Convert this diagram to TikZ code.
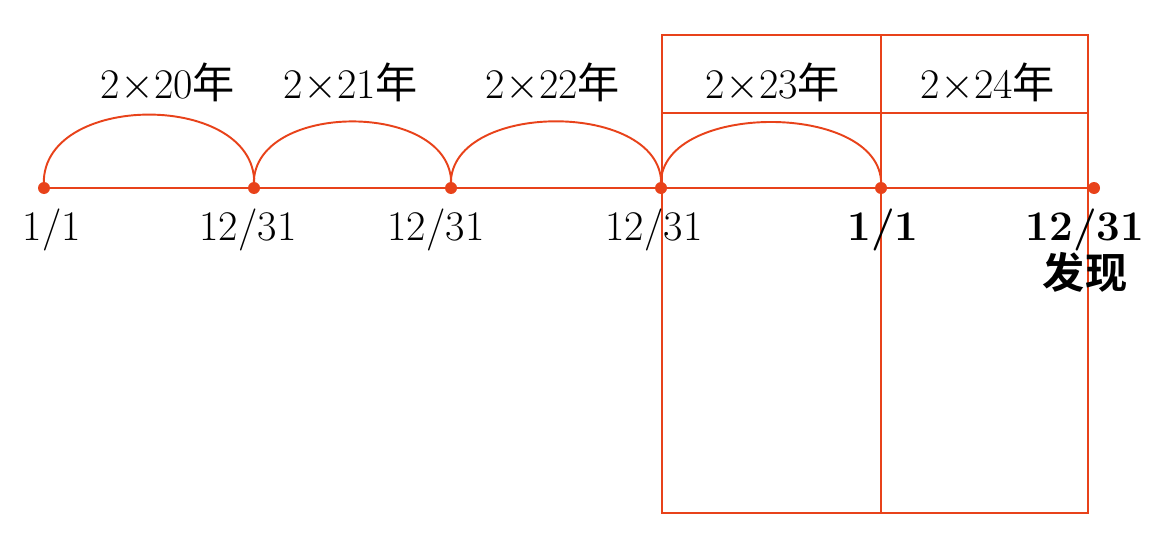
\documentclass[tikz,border=0pt]{standalone}
\usepackage{fontspec}
\usepackage{tikz}
\usetikzlibrary{positioning,calc}
\newfontfamily\cjk{Noto Sans CJK SC}[BoldFont={Noto Sans CJK SC Bold}]
\definecolor{timered}{RGB}{232,66,26}
\tikzset{
    dot/.style={
        circle,
        fill=timered,
        inner sep=0pt,
        minimum size=0.24cm
    },
    datelabel/.style={
        font=\fontsize{24}{28}\selectfont,
        inner sep=0pt
    },
    yearlabel/.style={
        font=\fontsize{24}{28}\selectfont,
        inner sep=0pt
    },
    hop/.style={
        timered,
        line width=1.1pt,
        out=95,
        in=85
    },
    frame/.style={
        timered,
        line width=1.1pt
    }
}

\begin{document}
\begin{tikzpicture}[x=0.02cm,y=-0.02cm]
        \useasboundingbox (0,0) rectangle (1172,537);

        % Points on the timeline
        \node[dot] (d0) at (44,188) {};
        \node[dot] (d1) at (254,188) {};
        \node[dot] (d2) at (451,188) {};
        \node[dot] (d3) at (661,188) {};
        \node[dot] (d4) at (881,188) {};
        \node[dot] (d5) at (1094,188) {};

        % Timeline
        \draw[frame] (d0.center) -- (d5.center);

        % Frame around the last two years
        \coordinate (tl) at (662,35);
        \coordinate (br) at (1088,513);
        \coordinate (mt) at (881,35);
        \coordinate (mb) at (881,513);
        \coordinate (hl) at (662,113);
        \coordinate (hr) at (1088,113);
        \draw[frame] (tl) rectangle (br);
        \draw[frame] (mt) -- (mb);
        \draw[frame] (hl) -- (hr);

        % Hops between dates
        \draw[hop,looseness=1.2] (d0.center) to (d1.center);
        \draw[hop,looseness=1.16] (d1.center) to (d2.center);
        \draw[hop,looseness=1.09] (d2.center) to (d3.center);
        \draw[hop,looseness=1.03] (d3.center) to (d4.center);

        % Year labels
        \node[yearlabel] (y0) at (168,83) {2$\times$20{\cjk 年}};
        \node[yearlabel] (y1) at (351,83) {2$\times$21{\cjk 年}};
        \node[yearlabel] (y2) at (553,83) {2$\times$22{\cjk 年}};
        \node[yearlabel] (y3) at (773,83) {2$\times$23{\cjk 年}};
        \node[yearlabel] (y4) at (988,83) {2$\times$24{\cjk 年}};

        % Date labels
        \node[datelabel] (l0) at (52,230) {1/1};
        \node[datelabel] (l1) at (248,230) {12/31};
        \node[datelabel] (l2) at (436,230) {12/31};
        \node[datelabel] (l3) at (654,230) {12/31};
        \node[datelabel] (l4) at (883,230) {\bfseries 1/1};
        \node[datelabel] (l5) at (1085,230) {\bfseries 12/31};
        \node[datelabel] (found) at (1085,272) {\cjk\bfseries 发现};
    \end{tikzpicture}
\end{document}
